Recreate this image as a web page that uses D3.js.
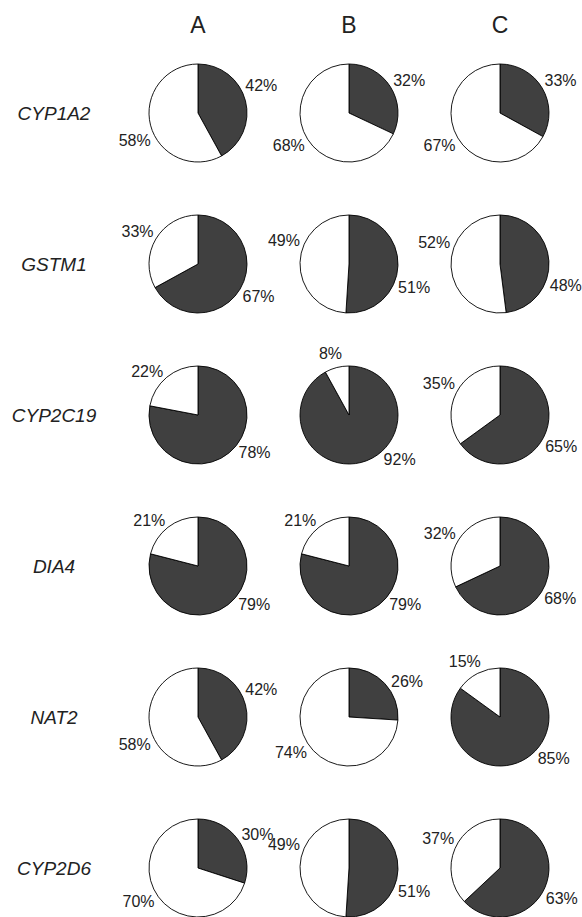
<!DOCTYPE html>
<html>
<head>
<meta charset="utf-8">
<script src="https://d3js.org/d3.v7.min.js"></script>
<style>
  body { margin: 0; background: #fff; }
  text { font-family: "Liberation Sans", Arial, sans-serif; fill: #222; }
</style>
</head>
<body>
<div id="chart"></div>
<script>
// chart data
var genes = ["CYP1A2", "GSTM1", "CYP2C19", "DIA4", "NAT2", "CYP2D6"];
var groups = ["A", "B", "C"];
// dark slice (%) per gene, one value per group
var darkValues = [
    [42, 32, 33],
    [67, 51, 48],
    [78, 92, 65],
    [79, 79, 68],
    [42, 26, 85],
    [30, 51, 63]
];
// white slice (%) per gene
var lightValues = [
    [58, 68, 67],
    [33, 49, 52],
    [22, 8, 35],
    [21, 21, 32],
    [58, 74, 15],
    [70, 49, 37]
];

var svgWidth = 582;
var svgHeight = 917;
var radius = 49;

var svg = d3.select("#chart")
    .append("svg")
    .attr("width", svgWidth)
    .attr("height", svgHeight);

// grid positions
var xScale = d3.scalePoint()
    .domain(groups)
    .range([198, 500]);

var yScale = d3.scalePoint()
    .domain(genes)
    .range([113, 868]);

var pie = d3.pie()
    .sort(null)
    .value(d => d.value);

var arc = d3.arc()
    .innerRadius(0)
    .outerRadius(radius);

// column headers
svg.selectAll(".col-label")
    .data(groups)
    .enter()
    .append("text")
    .attr("class", "col-label")
    .attr("x", d => xScale(d))
    .attr("y", 33)
    .attr("text-anchor", "middle")
    .style("font-size", "23px")
    .text(d => d);

// row labels
svg.selectAll(".row-label")
    .data(genes)
    .enter()
    .append("text")
    .attr("class", "row-label")
    .attr("x", 54)
    .attr("y", d => yScale(d))
    .attr("dy", "0.35em")
    .attr("text-anchor", "middle")
    .style("font-size", "19px")
    .style("font-style", "italic")
    .text(d => d);

// labels sit outside the pie, pulled towards a diagonal
// (a half-split pie puts white upper-left and dark lower-right)
// small slices keep their label close to the middle of the slice
var diagonals = [Math.PI / 3, 2 * Math.PI / 3, 4 * Math.PI / 3, 5 * Math.PI / 3];
var bias = 10 * Math.PI / 180;
function labelAngle(d) {
    var mid = (d.startAngle + d.endAngle) / 2;
    var span = d.endAngle - d.startAngle;
    var nearest = diagonals.reduce((a, b) =>
        Math.abs(b - mid - bias) < Math.abs(a - mid - bias) ? b : a);
    var shift = (nearest - mid) * 0.7;
    var limit = 0.4 * span * span / (2 * Math.PI);
    shift = Math.max(-limit, Math.min(limit, shift));
    return mid + shift;
}
// a bit closer near the top/bottom, where the text is short
var labelRx = 70;
var labelRy = 64;

genes.forEach(function(gene, i) {
    groups.forEach(function(group, j) {
        var slices = [
            {key: "dark", value: darkValues[i][j]},
            {key: "light", value: lightValues[i][j]}
        ];

        var g = svg.append("g")
            .attr("transform", `translate(${xScale(group)}, ${yScale(gene)})`);

        g.selectAll("path")
            .data(pie(slices))
            .enter()
            .append("path")
            .attr("d", arc)
            .attr("fill", d => d.data.key === "dark" ? "#404040" : "#ffffff")
            .attr("stroke", "#000")
            .attr("stroke-width", 0.9);

        g.selectAll("text")
            .data(pie(slices))
            .enter()
            .append("text")
            .attr("x", d => labelRx * Math.sin(labelAngle(d)))
            .attr("y", d => -labelRy * Math.cos(labelAngle(d)))
            .attr("dy", "0.35em")
            .attr("text-anchor", "middle")
            .style("font-size", "16px")
            .text(d => d.data.value + "%");
    });
});
</script>
</body>
</html>
